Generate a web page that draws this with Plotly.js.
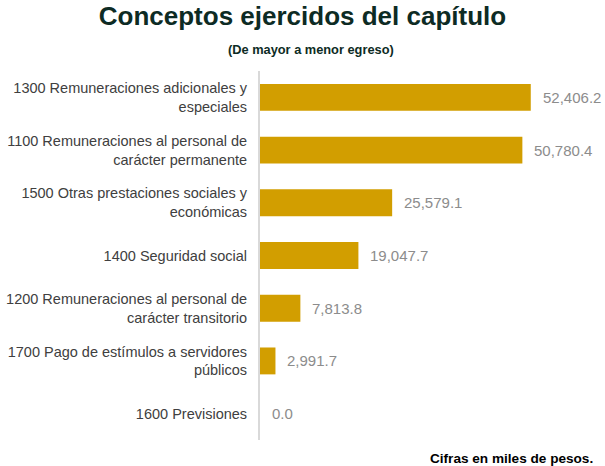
<!DOCTYPE html>
<html><head><meta charset="utf-8">
<script src="https://cdn.plot.ly/plotly-3.0.1.min.js"></script>
<style>html,body{margin:0;padding:0;background:#fff}#c{width:605px;height:466px}</style>
</head><body><div id="c"></div>
<script>
const categories = [
  "1300 Remuneraciones adicionales y<br>especiales",
  "1100 Remuneraciones al personal de<br>carácter permanente",
  "1500 Otras prestaciones sociales y<br>económicas",
  "1400 Seguridad social",
  "1200 Remuneraciones al personal de<br>carácter transitorio",
  "1700 Pago de estímulos a servidores<br>públicos",
  "1600 Previsiones"
];
const values = [52406.2, 50780.4, 25579.1, 19047.7, 7813.8, 2991.7, 0.0];
const valueLabels = ["52,406.2", "50,780.4", "25,579.1", "19,047.7", "7,813.8", "2,991.7", "0.0"];

const annotations = categories.map((c, i) => ({
  x: values[i], y: c, xref: 'x', yref: 'y', text: valueLabels[i],
  showarrow: false, xanchor: 'left', xshift: 10,
  font: {family: 'Liberation Sans, Arial, sans-serif', size: 15, color: '#8c8c8c'}
}));
annotations.push({
  xref: 'paper', yref: 'paper', x: 1.08, y: -0.025, yanchor: 'top', xanchor: 'right',
  text: '<b>Cifras en miles de pesos.</b>', showarrow: false,
  font: {family: 'Liberation Sans, Arial, sans-serif', size: 13.6, color: '#000'}
});
annotations.push({
  xref: 'paper', yref: 'paper', x: 0.165, xanchor: 'center', y: 1, yanchor: 'bottom', yshift: 12,
  text: '<b>(De mayor a menor egreso)</b>', showarrow: false,
  font: {family: 'Liberation Sans, Arial, sans-serif', size: 12.8, color: '#0d2b24'}
});

const data = [{
  type: 'bar', orientation: 'h', x: values, y: categories,
  marker: {color: '#D29E00'}, hoverinfo: 'none'
}];
const layout = {
  width: 605, height: 466,
  margin: {l: 260, r: 35, t: 71, b: 26},
  paper_bgcolor: '#fff', plot_bgcolor: '#fff',
  bargap: 0.49,
  showlegend: false,
  title: {text: '<b>Conceptos ejercidos del capítulo</b>', xref: 'container', x: 0.5, xanchor: 'center',
    yref: 'container', y: 0.985, yanchor: 'top',
    font: {family: 'Liberation Sans, Arial, sans-serif', size: 26, color: '#0d2b24'}},
  xaxis: {range: [0, 60000], visible: false, fixedrange: true},
  yaxis: {autorange: 'reversed', showline: true, linecolor: '#d9d9d9', linewidth: 2,
    showgrid: false, zeroline: false, ticks: '', ticklabelstandoff: 8,
    tickfont: {family: 'Liberation Sans, Arial, sans-serif', size: 14.5, color: '#404040'}},
  annotations: annotations
};
Plotly.newPlot('c', data, layout, {displayModeBar: false, staticPlot: true});
</script></body></html>
